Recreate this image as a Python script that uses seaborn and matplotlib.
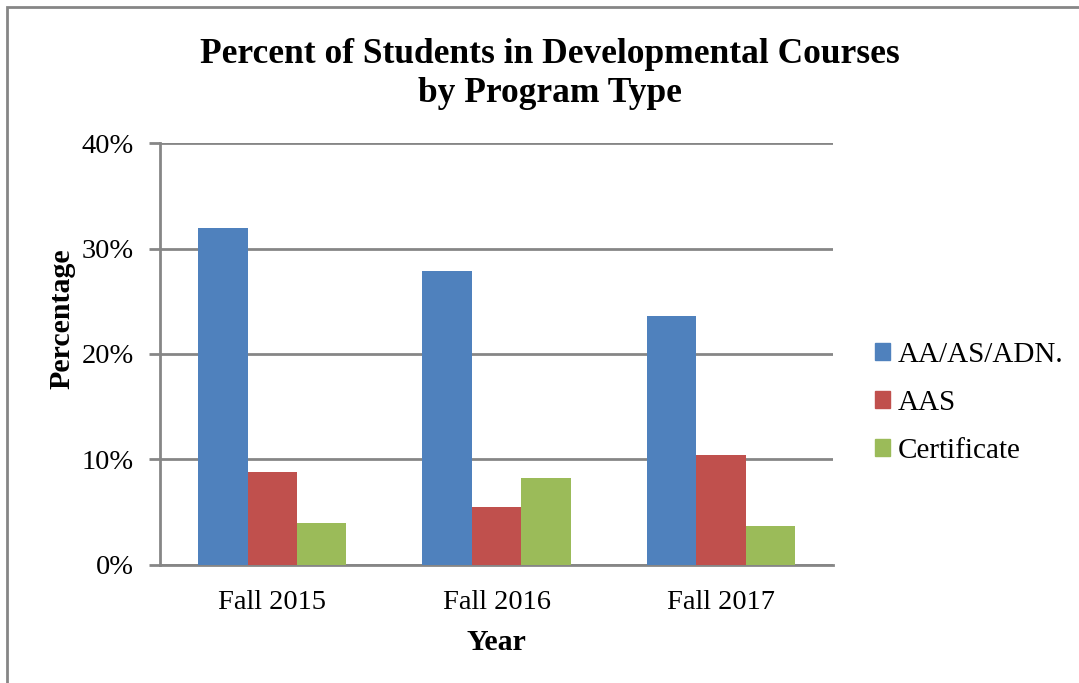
import pandas as pd
import matplotlib.pyplot as plt
import matplotlib.patches as mpatches
import seaborn as sns

# Chart data
years = ["Fall 2015", "Fall 2016", "Fall 2017"]
programs = ["AA/AS/ADN.", "AAS", "Certificate"]
aa_as_adn = [0.319, 0.279, 0.236]
aas = [0.088, 0.055, 0.104]
certificate = [0.040, 0.082, 0.037]
colors = ["#4F81BD", "#C0504D", "#9BBB59"]
y_ticks = [0.0, 0.1, 0.2, 0.3, 0.4]
y_tick_labels = ["0%", "10%", "20%", "30%", "40%"]


def build_frame():
    """Put the series into long format for seaborn."""
    rows = []
    for prog, vals in zip(programs, [aa_as_adn, aas, certificate]):
        for yr, v in zip(years, vals):
            rows.append({"Year": yr, "Program": prog, "Percentage": v})
    return pd.DataFrame(rows)


def main():
    data = build_frame()

    sns.set_style("white")
    plt.rcParams["font.family"] = ["Liberation Serif", "DejaVu Serif"]
    plt.rcParams["text.color"] = "black"
    plt.rcParams["axes.labelcolor"] = "black"

    fig = plt.figure(figsize=(10.79, 6.83), dpi=100)
    ax = fig.add_axes([0.1483, 0.1728, 0.6237, 0.6178])

    sns.barplot(data=data, x="Year", y="Percentage", hue="Program",
                hue_order=programs, palette=colors, width=0.66,
                edgecolor="none", saturation=1, ax=ax, legend=False, zorder=3)

    ax.set_ylim(0, 0.4)
    ax.set_xlim(-0.5, 2.5)
    ax.set_yticks(y_ticks)
    ax.set_yticklabels(y_tick_labels, fontsize=20.5)
    ax.tick_params(axis="y", left=True, length=8, width=2, color="#868686",
                   labelcolor="black", pad=11, direction="out")
    ax.tick_params(axis="x", bottom=False, length=0, labelsize=20.5,
                   labelcolor="black", pad=18)
    ax.grid(axis="y", color="#868686", linewidth=2, zorder=0)
    ax.set_axisbelow(True)

    for side in ["top", "right"]:
        ax.spines[side].set_visible(False)
    for side in ["left", "bottom"]:
        ax.spines[side].set_color("#868686")
        ax.spines[side].set_linewidth(2)

    ax.set_xlabel("Year", fontsize=21.5, fontweight="bold", labelpad=10)
    ax.set_ylabel("Percentage", fontsize=21.5, fontweight="bold")
    ax.yaxis.set_label_coords(-0.125, 0.583)

    fig.text(0.51, 0.892, "Percent of Students in Developmental Courses\nby Program Type",
             ha="center", va="center", fontsize=25.5, fontweight="bold", linespacing=1.25)

    handles = [mpatches.Patch(color=c, label=p) for c, p in zip(colors, programs)]
    fig.legend(handles=handles, loc="center left", bbox_to_anchor=(0.787, 0.41),
               frameon=False, fontsize=21, handlelength=0.5, handleheight=0.5,
               handletextpad=0.25, labelspacing=0.75)

    # outer chart border (runs off the right and bottom edges)
    border = mpatches.Rectangle((7 / 1079, -0.1), 1.2, 1 - 7.5 / 683 + 0.1,
                                transform=fig.transFigure, fill=False,
                                edgecolor="#868686", linewidth=2)
    fig.patches.append(border)

    fig.savefig("out.png", dpi=100)


if __name__ == "__main__":
    main()
